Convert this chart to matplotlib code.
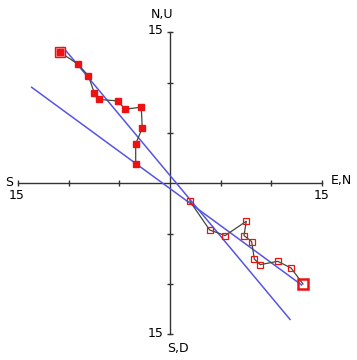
import matplotlib
matplotlib.use('Agg')
import matplotlib.pyplot as plt

# Zijderveld projections (demag steps), first point = NRM
horiz_x = [-10.84, -9.11, -8.07, -7.48, -6.98, -5.14, -4.45, -2.84, -2.74, -3.39, -3.39]
horiz_y = [12.99, 11.84, 10.68, 8.98, 8.32, 8.18, 7.35, 7.56, 5.47, 3.93, 1.94]
vert_x = [13.14, 11.96, 10.64, 8.92, 8.33, 8.07, 7.31, 7.54, 5.46, 3.92, 1.95]
vert_y = [-10.00, -8.41, -7.75, -8.08, -7.52, -5.79, -5.19, -3.77, -5.19, -4.64, -1.76]

# fitted directions (end points)
fit_horiz = ([-10.54, 11.86], [13.47, -13.52])
fit_vert = ([-13.67, 13.01], [9.53, -10.10])

scale = 15
ticks = [-15, -10, -5, 5, 10, 15]

fig = plt.figure(figsize=(3.57, 3.60), dpi=100)
ax = fig.add_axes([0, 0, 1, 1])
ax.set_xlim(-16.8, 18.48)
ax.set_ylim(-17.55, 18.2)
ax.axis('off')

# axes cross
ax.plot([-scale, scale], [0, 0], color='#333333', lw=1.0, zorder=1)
ax.plot([0, 0], [-scale, scale], color='#333333', lw=1.0, zorder=1)
ax.plot(ticks, [0]*len(ticks), ls='none', marker='|', ms=5, mew=1.0, color='#333333', zorder=1)
ax.plot([0]*len(ticks), ticks, ls='none', marker='_', ms=5, mew=1.0, color='#333333', zorder=1)

# fit lines
ax.plot(*fit_horiz, color='#5555e6', lw=1.1, zorder=2)
ax.plot(*fit_vert, color='#5555e6', lw=1.1, zorder=2)

# horizontal projection: filled squares
ax.plot(horiz_x, horiz_y, color='#3f4a3f', lw=0.9, zorder=3)
ax.plot(horiz_x[1:], horiz_y[1:], ls='none', marker='s', ms=5.0, mfc='#ee1111', mec='#ee1111', zorder=4)
ax.plot(horiz_x[0], horiz_y[0], marker='s', ms=7.2, mfc='#f4a0a0', mec='#ee1111', mew=1.0, zorder=4)
ax.plot(horiz_x[0], horiz_y[0], marker='s', ms=4.5, mfc='#ee1111', mec='#ee1111', zorder=5)

# vertical projection: open squares
ax.plot(vert_x, vert_y, color='#3f4a3f', lw=0.9, zorder=3)
ax.plot(vert_x[1:], vert_y[1:], ls='none', marker='s', ms=5.0, mfc='none', mec='#ee1111', mew=0.9, zorder=4)
ax.plot(vert_x[0], vert_y[0], marker='s', ms=7.2, mfc='none', mec='#ee1111', mew=1.8, zorder=4)

# axis labels
fs = 9
ax.text(-0.8, 16.8, 'N,U', fontsize=fs, ha='center', va='center')
ax.text(-0.6, 15.2, '15', fontsize=fs, ha='right', va='center')
ax.text(0.8, -16.4, 'S,D', fontsize=fs, ha='center', va='center')
ax.text(-0.6, -14.9, '15', fontsize=fs, ha='right', va='center')
ax.text(-15.9, 0.1, 'S', fontsize=fs, ha='center', va='center')
ax.text(-15.2, -1.2, '15', fontsize=fs, ha='center', va='center')
ax.text(16.9, 0.3, 'E,N', fontsize=fs, ha='center', va='center')
ax.text(15.0, -1.2, '15', fontsize=fs, ha='center', va='center')

fig.savefig('out.png', dpi=100)
